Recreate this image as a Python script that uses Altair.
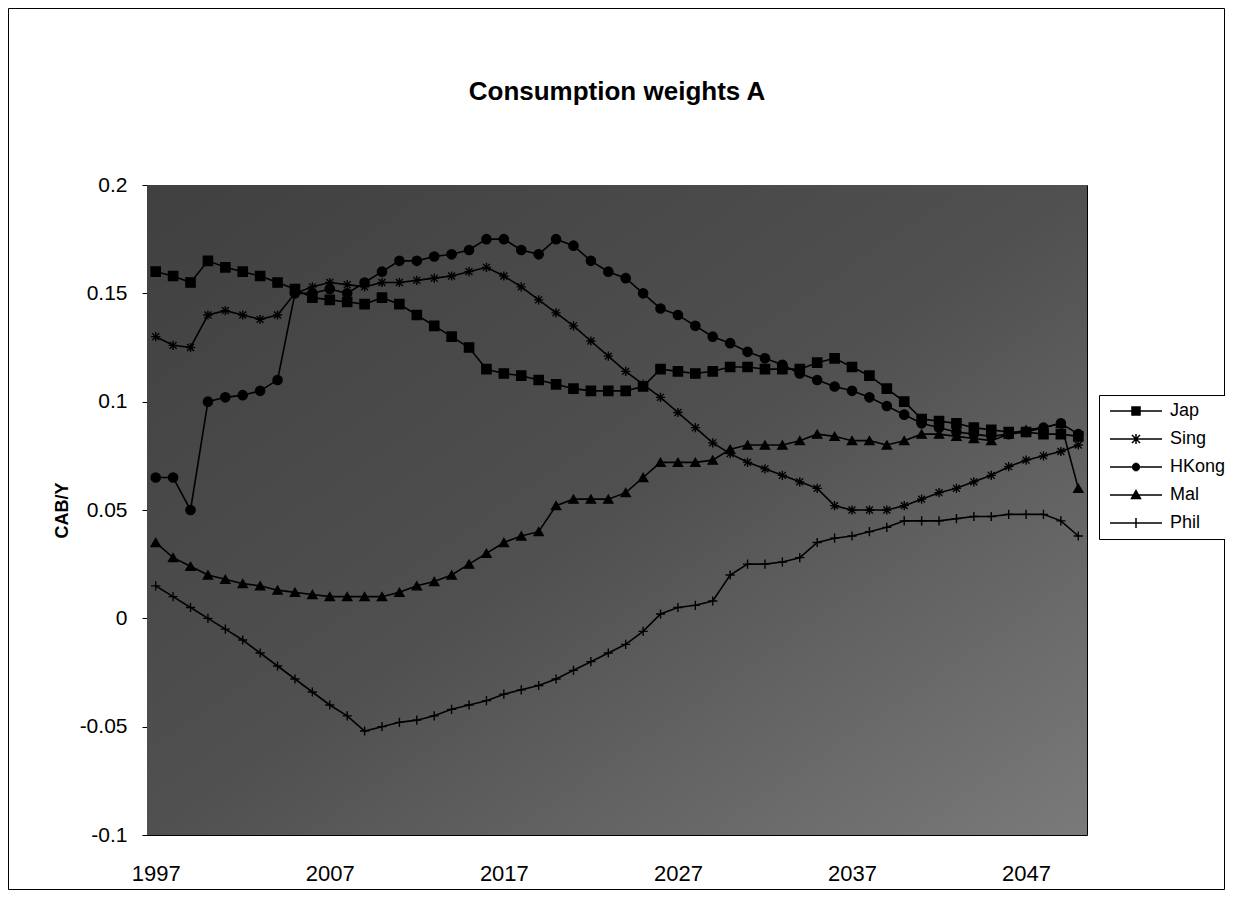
import altair as alt
import pandas as pd
import math

years = list(range(1997, 2051))
series_names = ["Jap", "Sing", "HKong", "Mal", "Phil"]

jap = [0.160, 0.158, 0.155, 0.165, 0.162, 0.160, 0.158, 0.155, 0.152, 0.148,
       0.147, 0.146, 0.145, 0.148, 0.145, 0.140, 0.135, 0.130, 0.125, 0.115,
       0.113, 0.112, 0.110, 0.108, 0.106, 0.105, 0.105, 0.105, 0.107, 0.115,
       0.114, 0.113, 0.114, 0.116, 0.116, 0.115, 0.115, 0.115, 0.118, 0.120,
       0.116, 0.112, 0.106, 0.100, 0.092, 0.091, 0.090, 0.088, 0.087, 0.086,
       0.086, 0.085, 0.085, 0.084]
sing = [0.130, 0.126, 0.125, 0.140, 0.142, 0.140, 0.138, 0.140, 0.150, 0.153,
        0.155, 0.154, 0.153, 0.155, 0.155, 0.156, 0.157, 0.158, 0.160, 0.162,
        0.158, 0.153, 0.147, 0.141, 0.135, 0.128, 0.121, 0.114, 0.108, 0.102,
        0.095, 0.088, 0.081, 0.076, 0.072, 0.069, 0.066, 0.063, 0.060, 0.052,
        0.050, 0.050, 0.050, 0.052, 0.055, 0.058, 0.060, 0.063, 0.066, 0.070,
        0.073, 0.075, 0.077, 0.080]
hkong = [0.065, 0.065, 0.050, 0.100, 0.102, 0.103, 0.105, 0.110, 0.150, 0.150,
         0.152, 0.150, 0.155, 0.160, 0.165, 0.165, 0.167, 0.168, 0.170, 0.175,
         0.175, 0.170, 0.168, 0.175, 0.172, 0.165, 0.160, 0.157, 0.150, 0.143,
         0.140, 0.135, 0.130, 0.127, 0.123, 0.120, 0.117, 0.113, 0.110, 0.107,
         0.105, 0.102, 0.098, 0.094, 0.090, 0.088, 0.086, 0.085, 0.084, 0.085,
         0.086, 0.088, 0.090, 0.085]
mal = [0.035, 0.028, 0.024, 0.020, 0.018, 0.016, 0.015, 0.013, 0.012, 0.011,
       0.010, 0.010, 0.010, 0.010, 0.012, 0.015, 0.017, 0.020, 0.025, 0.030,
       0.035, 0.038, 0.040, 0.052, 0.055, 0.055, 0.055, 0.058, 0.065, 0.072,
       0.072, 0.072, 0.073, 0.078, 0.080, 0.080, 0.080, 0.082, 0.085, 0.084,
       0.082, 0.082, 0.080, 0.082, 0.085, 0.085, 0.084, 0.083, 0.082, 0.085,
       0.087, 0.088, 0.090, 0.060]
phil = [0.015, 0.010, 0.005, 0.000, -0.005, -0.010, -0.016, -0.022, -0.028, -0.034,
        -0.040, -0.045, -0.052, -0.050, -0.048, -0.047, -0.045, -0.042, -0.040, -0.038,
        -0.035, -0.033, -0.031, -0.028, -0.024, -0.020, -0.016, -0.012, -0.006, 0.002,
        0.005, 0.006, 0.008, 0.020, 0.025, 0.025, 0.026, 0.028, 0.035, 0.037,
        0.038, 0.040, 0.042, 0.045, 0.045, 0.045, 0.046, 0.047, 0.047, 0.048,
        0.048, 0.048, 0.045, 0.038]

x_labels = [1997, 2007, 2017, 2027, 2037, 2047]
y_ticks = [-0.1, -0.05, 0, 0.05, 0.1, 0.15, 0.2]

values = {"Jap": jap, "Sing": sing, "HKong": hkong, "Mal": mal, "Phil": phil}
rows = []
for name in series_names:
    for yr, v in zip(years, values[name]):
        rows.append({"Year": yr, "Series": name, "Legend": name, "Value": v})
df = pd.DataFrame(rows)

# marker shapes in the plot
ast = "M-1,0H1M0,-1V1M-0.75,-0.75L0.75,0.75M-0.75,0.75L0.75,-0.75"
plus = "M0,-1V1M-1,0H1"
marker_shapes = ["square", ast, "circle", "triangle-up", plus]

# legend symbols (stroke only): line + marker drawn with dense strokes
cx = 4.2
ln = "M-1,0H9.4"
ys = [-0.72 + 0.24 * i for i in range(7)]


def fmt(v):
    return f"{v:.3f}"


sq = "".join(f"M{fmt(cx-0.75)},{fmt(y)}H{fmt(cx+0.75)}" for y in ys)
sq += f"M{fmt(cx-0.8)},-0.8H{fmt(cx+0.8)}V0.8H{fmt(cx-0.8)}Z"
circ = ""
for y in ys:
    hw = math.sqrt(max(0.0, 0.8 ** 2 - y ** 2))
    circ += f"M{fmt(cx-hw)},{fmt(y)}H{fmt(cx+hw)}"
tri = ""
for y in [-0.6 + 0.22 * i for i in range(7)]:
    hw = 0.9 * (y + 0.9) / 1.6
    tri += f"M{fmt(cx-hw)},{fmt(y)}H{fmt(cx+hw)}"
tri += f"M{fmt(cx)},-0.9L{fmt(cx+0.9)},0.7H{fmt(cx-0.9)}Z"
leg_shapes = [
    ln + sq,
    ln + f"M{cx},-1V1M{fmt(cx-0.8)},-0.8L{fmt(cx+0.8)},0.8M{fmt(cx-0.8)},0.8L{fmt(cx+0.8)},-0.8",
    ln + circ,
    ln + tri,
    ln + f"M{cx},-1V1",
]

W, H = 940, 650
font = "Liberation Sans"

x_enc = alt.X("Year:Q", scale=alt.Scale(domain=[1996.5, 2050.5], nice=False, zero=False),
              axis=alt.Axis(values=x_labels, format="d", title=None, grid=False,
                            ticks=False, domain=False, labelPadding=28, labelFontSize=22,
                            labelFont=font, labelColor="black"))
y_enc = alt.Y("Value:Q", scale=alt.Scale(domain=[-0.1, 0.2], nice=False, zero=False),
              axis=alt.Axis(values=y_ticks, title="CAB/Y", grid=False,
                            labelExpr="replace(format(datum.value, '.2~f'), '\u2212', '-')",
                            tickSize=5, tickColor="black", labelPadding=15, domain=False,
                            labelFontSize=21, labelFont=font, labelColor="black",
                            titleFont=font, titleFontSize=18, titleFontWeight="bold",
                            titleColor="black", titlePadding=8))

one = pd.DataFrame({"k": [0]})
bg = alt.Chart(one).mark_rect(
    color=alt.LinearGradient(gradient="linear", x1=0, y1=0, x2=1, y2=1,
                             stops=[alt.GradientStop(offset=0, color="#404040"),
                                    alt.GradientStop(offset=0.5, color="#505050"),
                                    alt.GradientStop(offset=1, color="#7a7a7a")])
).encode(x=alt.value(0), x2=alt.value(W), y=alt.value(0), y2=alt.value(H))

frame = alt.Chart(one).mark_rect(fillOpacity=0, stroke="black", strokeWidth=1, clip=False).encode(
    x=alt.value(-138.5), x2=alt.value(1077.5), y=alt.value(-176.5), y2=alt.value(704.5))

lines = alt.Chart(df).mark_line(color="black", strokeWidth=1.6).encode(
    x=x_enc, y=y_enc, detail="Series:N", order="Year:Q")

points = alt.Chart(df).mark_point(filled=True, color="black", stroke="black",
                                  strokeWidth=1.4, size=85, opacity=1).encode(
    x="Year:Q", y="Value:Q",
    shape=alt.Shape("Series:N", scale=alt.Scale(domain=series_names, range=marker_shapes),
                    legend=None))

helper = alt.Chart(df).mark_point(filled=False, color="black", strokeWidth=1.5,
                                  opacity=1, clip=True).encode(
    x=alt.value(-3000), y=alt.value(-3000),
    shape=alt.Shape("Legend:N", scale=alt.Scale(domain=series_names, range=leg_shapes),
                    legend=alt.Legend(title=None, orient="none", legendX=952, legendY=210,
                                      symbolSize=100, symbolStrokeColor="black",
                                      symbolStrokeWidth=1.5, symbolOpacity=1,
                                      labelOffset=46, labelFont=font, labelFontSize=18,
                                      labelColor="black", rowPadding=10, padding=7,
                                      strokeColor="black", fillColor="white",
                                      cornerRadius=0)))

chart = alt.layer(bg, frame, lines, points, helper).resolve_scale(
    shape="independent"
).properties(
    width=W, height=H,
    autosize=alt.AutoSizeParams(type="none"),
    padding={"left": 139, "top": 177, "right": 138, "bottom": 55},
    background="white",
    title=alt.Title("Consumption weights A", font=font, fontSize=26, fontWeight="bold",
                    color="black", anchor="middle", frame="group", offset=0, dy=97),
).configure_view(stroke="black", strokeWidth=1)

chart.save("out.html", embed_options={"renderer": "svg", "actions": False})
